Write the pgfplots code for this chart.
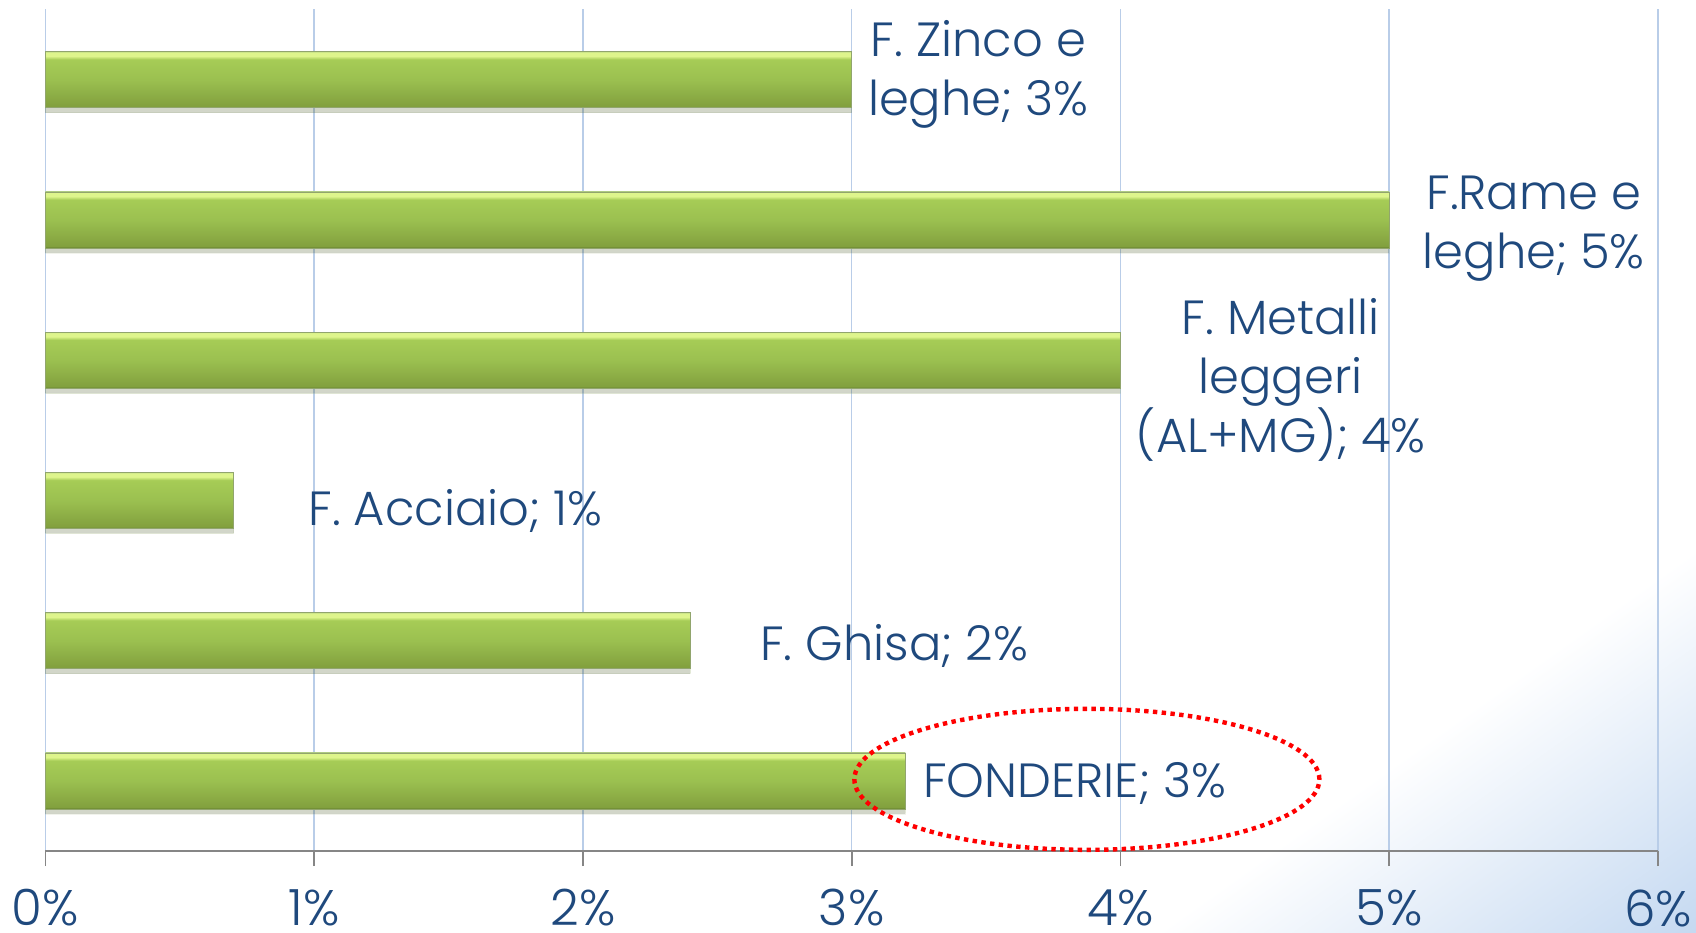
\documentclass[border=0pt]{standalone}
\usepackage{fontspec}
\setmainfont{Poppins}[UprightFont=* Light]
\usepackage{pgfplots}
\pgfplotsset{compat=1.18}
\usetikzlibrary{shadows}
\definecolor{txt}{RGB}{31,73,125}
\definecolor{gridc}{RGB}{185,205,232}
\definecolor{axgray}{RGB}{134,134,134}
\definecolor{bgblue}{RGB}{197,217,241}
\definecolor{gdark}{RGB}{98,126,46}
\definecolor{gbot}{RGB}{130,160,62}
\definecolor{gmid}{RGB}{155,192,80}
\definecolor{gtop}{RGB}{166,204,86}
\definecolor{glight}{RGB}{222,245,140}
\definecolor{gedge}{RGB}{195,220,135}
\pgfdeclareverticalshading{barshade}{100bp}{color(0bp)=(gdark); color(25bp)=(gdark); color(26.5bp)=(gbot); color(50bp)=(gmid); color(68bp)=(gtop); color(71bp)=(glight); color(74bp)=(glight); color(75bp)=(gedge); color(100bp)=(gedge)}
\pgfdeclareverticalshading{bgshade}{100bp}{color(0bp)=(bgblue); color(50bp)=(bgblue); color(63bp)=(white); color(100bp)=(white)}
\pgfplotsset{mybar/.style={xbar, bar width=0.4, bar shift=0pt, shade, shading=barshade, draw=gdark!70, line width=0.3pt,
  drop shadow={shadow xshift=0pt, shadow yshift=-2.5pt, opacity=0.13, fill=black}}}
\begin{document}
\begin{tikzpicture}
\useasboundingbox (0,0) rectangle (848pt,466pt);
\begin{scope}
\clip (0,0) rectangle (848pt,466pt);
\shade[shading=bgshade, shading angle=35.4] (548pt,-300pt) rectangle (1148pt,300pt);
\end{scope}
\begin{axis}[
  at={(22.7pt,40.5pt)}, anchor=south west,
  width=806.3pt, height=420.75pt, scale only axis,
  xmin=0, xmax=6, ymin=-0.5, ymax=5.5,
  clip=false,
  axis x line*=bottom, axis y line*=left,
  x axis line style={-, axgray, line width=0.8pt},
  y axis line style={draw=none},
  xtick={0,1,2,3,4,5,6},
  xticklabels={0\%,1\%,2\%,3\%,4\%,5\%,6\%},
  ytick=\empty,
  xtick align=outside,
  major tick length=7.5pt,
  tick style={axgray, line width=0.8pt},
  xmajorgrids,
  major grid style={gridc, line width=0.75pt},
  xticklabel style={font=\fontsize{25}{30}\selectfont, text=txt, anchor=center, inner sep=0pt, yshift=-21pt},
]
\addplot[mybar] coordinates {(3.2,0)};
\addplot[mybar] coordinates {(2.4,1)};
\addplot[mybar] coordinates {(0.7,2)};
\addplot[mybar] coordinates {(4,3)};
\addplot[mybar] coordinates {(5,4)};
\addplot[mybar] coordinates {(3,5)};
\begin{scope}[every node/.style={text=txt, inner sep=0pt, font=\fontsize{24}{29}\selectfont}]
\node[anchor=base] at (axis cs:3.471,5.163) {F. Zinco e};
\node[anchor=base] at (axis cs:3.471,4.742) {leghe; 3\%};
\node[anchor=base] at (axis cs:5.538,4.074) {F.Rame e};
\node[anchor=base] at (axis cs:5.538,3.653) {leghe; 5\%};
\node[anchor=base] at (axis cs:4.596,3.181) {F. Metalli};
\node[anchor=base] at (axis cs:4.596,2.760) {leggeri};
\node[anchor=base] at (axis cs:4.596,2.339) {(AL+MG); 4\%};
\node[anchor=base west] at (axis cs:0.977,1.820) {F. Acciaio; 1\%};
\node[anchor=base west] at (axis cs:2.658,0.857) {F. Ghisa; 2\%};
\node[anchor=base west] at (axis cs:3.265,-0.119) {FONDERIE; 3\%};
\end{scope}
\draw[red, line width=2.2pt, dash pattern=on 2.2pt off 2.2pt] (axis cs:3.875,0.011) ellipse [x radius=116.25pt, y radius=35.25pt];
\end{axis}
\end{tikzpicture}
\end{document}
